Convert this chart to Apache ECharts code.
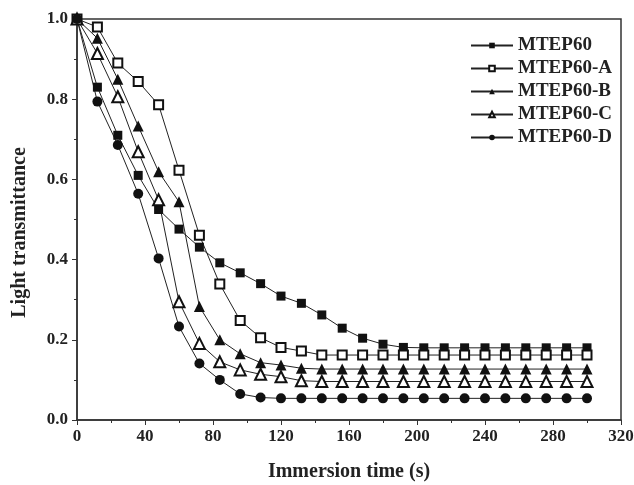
<!DOCTYPE html>
<html>
<head>
<meta charset="utf-8">
<script src="https://cdn.jsdelivr.net/npm/echarts@6/dist/echarts.min.js"></script>
<style>
  html, body { margin: 0; padding: 0; background: #fff; }
  #chartmain { width: 634px; height: 485px; }
</style>
</head>
<body>
<div id="chartmain"></div>
<script>
// immersion time (s)
var times = [0, 12, 24, 36, 48, 60, 72, 84, 96, 108, 120, 132, 144, 156, 168, 180, 192, 204, 216, 228, 240, 252, 264, 276, 288, 300];

var mtep60  = [1.0, 0.83, 0.71, 0.61, 0.525, 0.476, 0.431, 0.392, 0.367, 0.34, 0.309, 0.291, 0.262, 0.229, 0.204, 0.189, 0.181, 0.18, 0.18, 0.18, 0.18, 0.18, 0.18, 0.18, 0.18, 0.18];
var mtep60A = [1.0, 0.98, 0.89, 0.844, 0.786, 0.623, 0.461, 0.339, 0.248, 0.205, 0.181, 0.172, 0.162, 0.162, 0.162, 0.162, 0.162, 0.162, 0.162, 0.162, 0.162, 0.162, 0.162, 0.162, 0.162, 0.162];
var mtep60B = [1.0, 0.952, 0.85, 0.733, 0.619, 0.544, 0.283, 0.2, 0.165, 0.143, 0.137, 0.129, 0.127, 0.127, 0.127, 0.127, 0.127, 0.127, 0.127, 0.127, 0.127, 0.127, 0.127, 0.127, 0.127, 0.127];
var mtep60C = [1.0, 0.914, 0.806, 0.669, 0.549, 0.295, 0.191, 0.145, 0.125, 0.114, 0.108, 0.098, 0.096, 0.096, 0.096, 0.096, 0.096, 0.096, 0.096, 0.096, 0.096, 0.096, 0.096, 0.096, 0.096, 0.096];
var mtep60D = [1.0, 0.794, 0.686, 0.564, 0.403, 0.233, 0.141, 0.10, 0.065, 0.056, 0.054, 0.054, 0.054, 0.054, 0.054, 0.054, 0.054, 0.054, 0.054, 0.054, 0.054, 0.054, 0.054, 0.054, 0.054, 0.054];

var names = ['MTEP60', 'MTEP60-A', 'MTEP60-B', 'MTEP60-C', 'MTEP60-D'];
var values = [mtep60, mtep60A, mtep60B, mtep60C, mtep60D];
var symbols = ['rect', 'emptyRect', 'triangle', 'emptyTriangle', 'circle'];
var sizes = [9, 9, 11, 11, 10];

var font = 'Liberation Serif, Times New Roman, serif';

function pairs(arr) {
    var out = [];
    for (var i = 0; i < arr.length; i++) out.push([times[i], arr[i]]);
    return out;
}

var series = [];
for (var i = 0; i < names.length; i++) {
    series.push({
        name: names[i],
        type: 'line',
        symbol: symbols[i],
        symbolSize: sizes[i],
        showAllSymbol: true,
        lineStyle: {color: '#222', width: 1},
        // empty* symbols get a white fill and a stroke in this colour
        itemStyle: {color: '#111', borderWidth: 1},
        emphasis: {disabled: true},
        data: pairs(values[i])
    });
}

var myChart = echarts.init(document.getElementById('chartmain'));
var option = {
    animation: false,
    color: ['#111', '#111', '#111', '#111', '#111'],
    grid: {
        left: 77, right: 13, top: 19, bottom: 65,
        outerBoundsMode: 'none',
        containLabel: false,
        show: true,
        borderColor: '#333',
        borderWidth: 1.5
    },
    legend: {
        orient: 'vertical',
        left: 465,
        top: 31,
        itemWidth: 42,
        itemHeight: 7,
        itemGap: 4,
        data: names,
        textStyle: {fontFamily: font, fontWeight: 'bold', fontSize: 19, color: '#222'}
    },
    xAxis: {
        type: 'value',
        min: 0, max: 320, interval: 40,
        name: 'Immersion time (s)',
        nameLocation: 'middle',
        nameGap: 42,
        nameTextStyle: {fontFamily: font, fontWeight: 'bold', fontSize: 20, color: '#222'},
        axisLine: {lineStyle: {color: '#333', width: 1.5}},
        axisTick: {length: 5, lineStyle: {color: '#333', width: 1}},
        minorTick: {show: true, splitNumber: 2, length: 3, lineStyle: {color: '#333'}},
        splitLine: {show: false},
        axisLabel: {fontFamily: font, fontWeight: 'bold', fontSize: 17, color: '#222', margin: 8}
    },
    yAxis: {
        type: 'value',
        min: 0, max: 1.0, interval: 0.2,
        name: 'Light transmittance',
        nameLocation: 'middle',
        nameGap: 47,
        nameTextStyle: {fontFamily: font, fontWeight: 'bold', fontSize: 20, color: '#222', padding: [0, 26, 0, 0]},
        axisLine: {lineStyle: {color: '#333', width: 1.5}},
        axisTick: {length: 5, lineStyle: {color: '#333', width: 1}},
        minorTick: {show: true, splitNumber: 2, length: 3, lineStyle: {color: '#333'}},
        splitLine: {show: false},
        axisLabel: {
            fontFamily: font, fontWeight: 'bold', fontSize: 17, color: '#222', margin: 9,
            formatter: function (v) { return v.toFixed(1); }
        }
    },
    series: series
};
myChart.setOption(option);
</script>
</body>
</html>
